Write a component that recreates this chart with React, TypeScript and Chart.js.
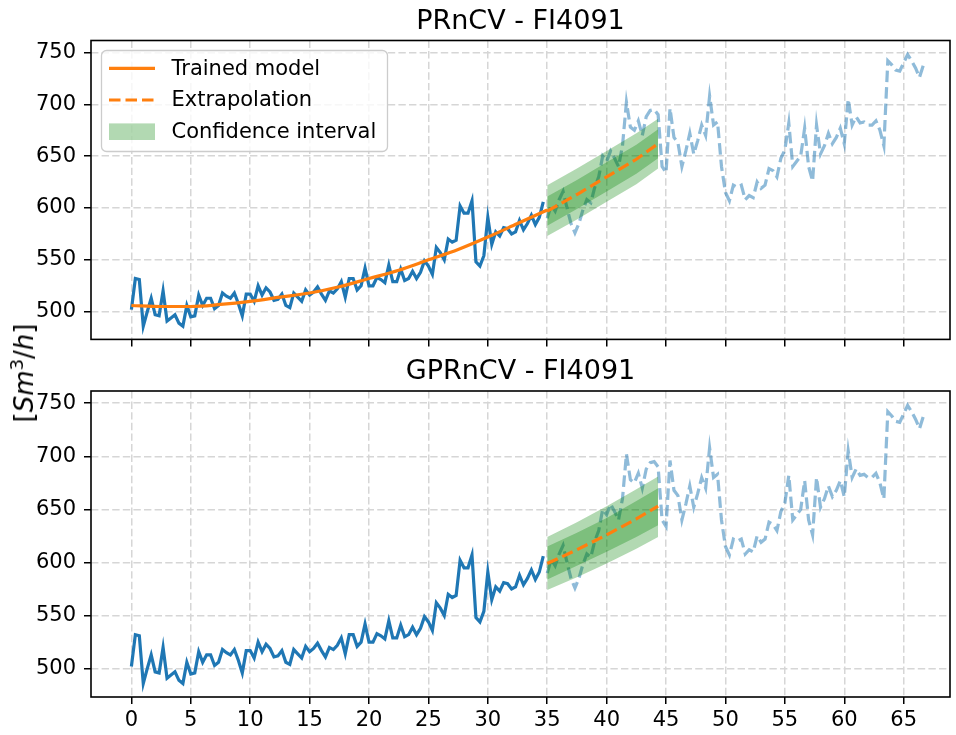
import React, { useEffect, useRef } from "react";
import { Chart, registerables } from "chart.js";
Chart.register(...registerables);

// ---------------- data ----------------
const STEP = 1 / 3;
// measured flow, training part (x = 0 .. 34.67)
const trainValues = [
  502, 532, 531, 486, 500, 513, 497, 496, 520, 491,
  494, 497, 489, 486, 506, 495, 496, 516, 506, 513,
  513, 503, 506, 518, 515, 513, 518, 508, 496, 517,
  517, 510, 525, 516, 523, 519, 511, 512, 517, 506,
  504, 518, 514, 510, 521, 516, 519, 524, 517, 511,
  520, 518, 522, 529, 514, 532, 532, 521, 525, 542,
  525, 525, 533, 531, 528, 545, 529, 529, 541, 530,
  532, 539, 532, 538, 549, 544, 536, 562, 557, 550,
  570, 567, 569, 602, 595, 595, 607, 548, 544, 554,
  591, 565, 577, 573, 581, 580, 575, 577, 588, 579,
  585, 593, 584, 591, 606,
];
// measured flow, test part (x = 35 .. 66.67)
const testValues = [
  590, 603, 597, 608, 616, 600, 585, 576, 585, 598,
  608, 605, 620, 630, 650, 645, 655, 648, 640, 660,
  702, 678, 675, 684, 670, 688, 694, 695, 690, 640,
  634, 696, 668, 663, 640, 655, 672, 652, 665, 680,
  670, 708, 680, 683, 640, 615, 607, 622, 620, 622,
  608, 612, 610, 625, 619, 622, 638, 636, 630, 648,
  656, 682, 640, 645, 650, 677, 640, 626, 680, 652,
  660, 672, 662, 668, 677, 662, 705, 680, 688, 682,
  683, 680, 680, 684, 675, 660, 742, 738, 733, 732,
  740, 748, 742, 735, 726, 738,
];
const TEST_START = 105;

// PRnCV trained model
const modelX = [0, 2.5, 5, 7.5, 10, 12.5, 15, 17.5, 20, 22.5, 25, 27.5, 30, 32.5, 35];
const prModel = [506, 505, 505, 507, 510, 514, 518, 524, 532, 540, 550, 560, 572, 585, 598];

// extrapolation + confidence bands
const extrapX = [35, 37.5, 40, 42.5, 44.33];
const prExtrap = [597, 613, 630, 647, 662];
const prOuterLow = [573, 589, 606, 623, 638];
const prOuterHigh = [622, 638, 655, 672, 686];
const prInnerLow = [583, 599, 616, 633, 648];
const prInnerHigh = [611, 627, 644, 661, 676];

const gprExtrap = [599, 612, 626, 641, 653];
const gprOuterLow = [574, 586, 599, 613, 624];
const gprOuterHigh = [624, 638, 653, 669, 681];
const gprInnerLow = [584, 597, 610, 624, 635];
const gprInnerHigh = [615, 628, 642, 658, 670];

const xTicks = [0, 5, 10, 15, 20, 25, 30, 35, 40, 45, 50, 55, 60, 65];
const yTicks = [500, 550, 600, 650, 700, 750];
const titles = ["PRnCV - FI4091", "GPRnCV - FI4091"];
const legendLabels = ["Trained model", "Extrapolation", "Confidence interval"];

// ---------------- styles ----------------
const BLUE = "#1f77b4";
const BLUE_LIGHT = "rgba(31,119,180,0.5)";
const ORANGE = "#ff7f0e";
const GREEN_FILL = "rgba(0,128,0,0.3)";
const FONT = "'DejaVu Sans', sans-serif";
const GRID = "#d6d6d6";
const LW = 3.2;
const DASH = [11.5, 5];

const X_MIN = -3.4;
const X_MAX = 68.9;
const Y_MIN = 473.3;
const Y_MAX = 761.5;

function pts(xs: number[], ys: number[]) {
  return ys.map((y, i) => ({ x: xs[i], y }));
}
const trainPts = trainValues.map((y, i) => ({ x: i * STEP, y }));
const testPts = testValues.map((y, i) => ({ x: (TEST_START + i) * STEP, y }));

function roundRect(ctx: CanvasRenderingContext2D, x: number, y: number, w: number, h: number, r: number) {
  ctx.beginPath();
  ctx.moveTo(x + r, y);
  ctx.lineTo(x + w - r, y);
  ctx.arcTo(x + w, y, x + w, y + r, r);
  ctx.lineTo(x + w, y + h - r);
  ctx.arcTo(x + w, y + h, x + w - r, y + h, r);
  ctx.lineTo(x + r, y + h);
  ctx.arcTo(x, y + h, x, y + h - r, r);
  ctx.lineTo(x, y + r);
  ctx.arcTo(x, y, x + r, y, r);
  ctx.closePath();
}

const framePlugin = {
  id: "frame",
  afterDraw(chart: any, _args: any, opts: any) {
    const { ctx, chartArea: a } = chart;
    ctx.save();
    ctx.strokeStyle = "#000";
    ctx.lineWidth = 1.6;
    ctx.setLineDash([]);
    ctx.strokeRect(a.left, a.top, a.right - a.left, a.bottom - a.top);
    ctx.fillStyle = "#000";
    ctx.font = `27px ${FONT}`;
    ctx.textAlign = "center";
    ctx.textBaseline = "alphabetic";
    ctx.fillText(opts.title, (a.left + a.right) / 2, a.top - 12);
    if (opts.legend) {
      const lx = a.left + 10.5;
      const ly = a.top + 10;
      const lw = 286;
      const lh = 101;
      roundRect(ctx, lx, ly, lw, lh, 5);
      ctx.fillStyle = "rgba(255,255,255,0.8)";
      ctx.fill();
      ctx.strokeStyle = "#cccccc";
      ctx.lineWidth = 1.3;
      ctx.stroke();
      const rows = [ly + 17.8, ly + 49.5, ly + 81.2];
      const hx0 = lx + 7.5;
      const hx1 = lx + 53.5;
      ctx.lineWidth = LW;
      ctx.strokeStyle = ORANGE;
      ctx.beginPath();
      ctx.moveTo(hx0, rows[0]);
      ctx.lineTo(hx1, rows[0]);
      ctx.stroke();
      ctx.setLineDash(DASH);
      ctx.beginPath();
      ctx.moveTo(hx0, rows[1]);
      ctx.lineTo(hx1, rows[1]);
      ctx.stroke();
      ctx.setLineDash([]);
      ctx.fillStyle = GREEN_FILL;
      ctx.fillRect(hx0, rows[2] - 8.3, hx1 - hx0, 16.6);
      ctx.fillStyle = "#000";
      ctx.font = `21px ${FONT}`;
      ctx.textAlign = "left";
      ctx.textBaseline = "middle";
      legendLabels.forEach((t, i) => ctx.fillText(t, lx + 70, rows[i] + 1));
    }
    ctx.restore();
  },
};

function lineDs(data: any[], color: string, opts: any = {}) {
  return {
    data,
    borderColor: color,
    backgroundColor: color,
    borderWidth: LW,
    pointRadius: 0,
    fill: false,
    tension: 0,
    ...opts,
  };
}

function bandDatasets(low: number[], high: number[], baseIndex: number) {
  return [
    {
      data: pts(extrapX, low),
      borderColor: "transparent",
      borderWidth: 0,
      pointRadius: 0,
      fill: false,
      order: 5,
    },
    {
      data: pts(extrapX, high),
      borderColor: "transparent",
      borderWidth: 0,
      pointRadius: 0,
      backgroundColor: GREEN_FILL,
      fill: { target: baseIndex },
      order: 5,
    },
  ];
}

function makeConfig(which: number) {
  const isTop = which === 0;
  const datasets: any[] = [];
  datasets.push(lineDs(trainPts, BLUE, { order: 10 }));
  datasets.push(lineDs(testPts, BLUE_LIGHT, { borderDash: DASH, order: 10 }));
  const oL = isTop ? prOuterLow : gprOuterLow;
  const oH = isTop ? prOuterHigh : gprOuterHigh;
  const iL = isTop ? prInnerLow : gprInnerLow;
  const iH = isTop ? prInnerHigh : gprInnerHigh;
  datasets.push(...bandDatasets(oL, oH, datasets.length));
  datasets.push(...bandDatasets(iL, iH, datasets.length));
  if (isTop) {
    datasets.push(lineDs(pts(modelX, prModel), ORANGE, { order: 1, cubicInterpolationMode: "monotone" }));
  }
  datasets.push(
    lineDs(pts(extrapX, isTop ? prExtrap : gprExtrap), ORANGE, { borderDash: DASH, order: 1 })
  );

  const axisH = isTop ? 14 : 38;
  return {
    type: "line",
    data: { datasets },
    options: {
      animation: false,
      responsive: false,
      devicePixelRatio: 1,
      layout: { padding: { top: isTop ? 40.5 : 36, right: 6, left: 0, bottom: 0 } },
      plugins: {
        legend: { display: false },
        tooltip: { enabled: false },
        frame: { title: titles[which], legend: isTop },
      },
      scales: {
        x: {
          type: "linear",
          min: X_MIN,
          max: X_MAX,
          afterBuildTicks: (s: any) => {
            s.ticks = xTicks.map((v) => ({ value: v }));
          },
          afterFit: (s: any) => {
            s.height = axisH;
          },
          ticks: {
            display: !isTop,
            color: "#000",
            font: { family: FONT, size: 21 },
            padding: 4,
            maxRotation: 0,
            autoSkip: false,
          },
          grid: {
            color: GRID,
            lineWidth: 1.5,
            tickColor: "#000",
            tickLength: 7,
            tickWidth: 1.5,
            tickBorderDash: [],
          },
          border: { display: false, dash: [7.4, 3.2] },
        },
        y: {
          type: "linear",
          min: Y_MIN,
          max: Y_MAX,
          afterBuildTicks: (s: any) => {
            s.ticks = yTicks.map((v) => ({ value: v }));
          },
          afterFit: (s: any) => {
            s.width = 91;
          },
          ticks: {
            color: "#000",
            font: { family: FONT, size: 21 },
            padding: 8,
          },
          grid: {
            color: GRID,
            lineWidth: 1.5,
            tickColor: "#000",
            tickLength: 7,
            tickWidth: 1.5,
            tickBorderDash: [],
          },
          border: { display: false, dash: [7.4, 3.2] },
        },
      },
    },
    plugins: [framePlugin],
  };
}

function Panel({ which, top, height }: { which: number; top: number; height: number }) {
  const ref = useRef<HTMLCanvasElement | null>(null);
  useEffect(() => {
    if (!ref.current) return;
    const chart = new Chart(ref.current, makeConfig(which) as any);
    return () => chart.destroy();
  }, [which]);
  return (
    <canvas
      ref={ref}
      width={956}
      height={height}
      style={{ position: "absolute", left: 0, top, width: 956, height }}
    />
  );
}

export default function App() {
  return (
    <div
      style={{
        position: "fixed",
        left: 0,
        top: 0,
        width: 956,
        height: 735,
        background: "#fff",
        overflow: "hidden",
      }}
    >
      <Panel which={0} top={0} height={360} />
      <Panel which={1} top={355} height={380} />
      <div
        style={{
          position: "absolute",
          left: 24,
          top: 373,
          transform: "translate(-50%, -50%) rotate(-90deg)",
          fontFamily: FONT,
          fontSize: 26,
          whiteSpace: "nowrap",
          lineHeight: 1,
          color: "#000",
        }}
      >
        [<i>Sm</i>
        <sup style={{ fontSize: "0.7em", verticalAlign: "0.55em", lineHeight: 0 }}>3</sup>/<i>h</i>]
      </div>
    </div>
  );
}
